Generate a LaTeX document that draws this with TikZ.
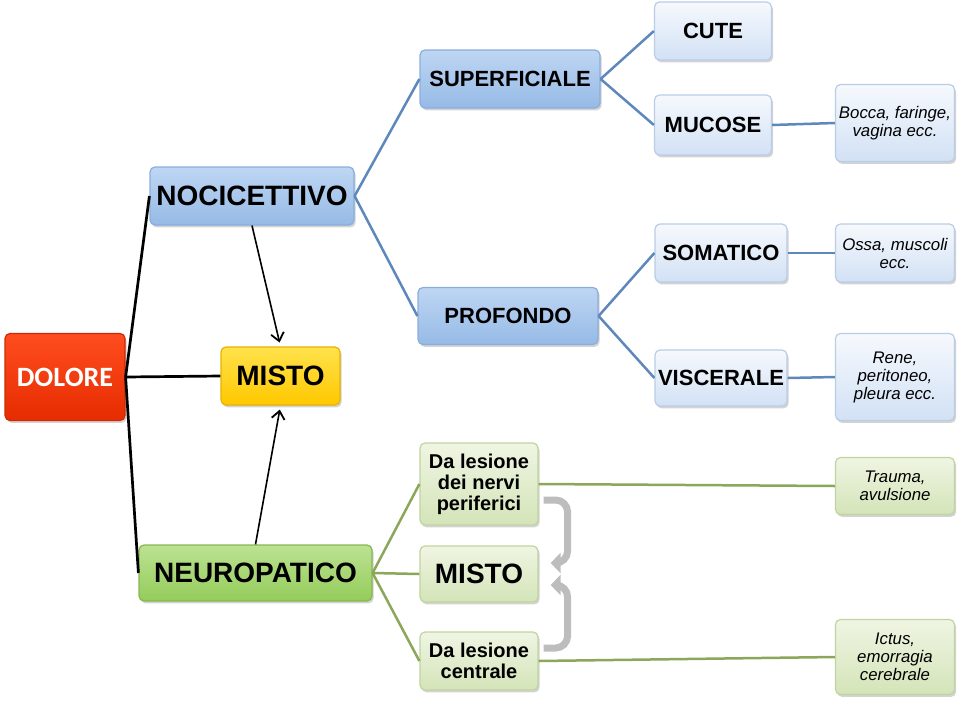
\documentclass[tikz,border=0pt]{standalone}
\usepackage{fontspec}
\setmainfont{Liberation Sans}
\newfontfamily\carlito{Carlito}
\usetikzlibrary{shadows,arrows.meta}
\definecolor{bluetop}{HTML}{BED6F3}
\definecolor{bluebot}{HTML}{96BAE6}
\definecolor{blueedge}{HTML}{8AAEDC}
\definecolor{palebluetop}{HTML}{F6F9FD}
\definecolor{palebluebot}{HTML}{D2E1F5}
\definecolor{paleblueedge}{HTML}{B9CDE6}
\definecolor{redtop}{HTML}{FF4D1F}
\definecolor{redbot}{HTML}{E62C00}
\definecolor{rededge}{HTML}{CC2A05}
\definecolor{yellowtop}{HTML}{FFE24C}
\definecolor{yellowbot}{HTML}{FFC800}
\definecolor{yellowedge}{HTML}{E5B300}
\definecolor{greentop}{HTML}{BCE292}
\definecolor{greenbot}{HTML}{94CC5A}
\definecolor{greenedge}{HTML}{86B84E}
\definecolor{palegreentop}{HTML}{EFF5E3}
\definecolor{palegreenbot}{HTML}{D4E4B8}
\definecolor{palegreenedge}{HTML}{C0D49E}
\definecolor{blueline}{HTML}{5E88BC}
\definecolor{greenline}{HTML}{8CA65A}
\definecolor{grayarrow}{HTML}{BDBDBD}
\newcommand{\fbig}{\fontsize{14}{15}\selectfont\bfseries}
\newcommand{\fmid}{\fontsize{11}{12}\selectfont\bfseries}
\newcommand{\fsub}{\fontsize{10}{10.5}\selectfont\bfseries}
\newcommand{\fnote}{\fontsize{8.4}{9}\selectfont\itshape}
\tikzstyle{box}=[rounded corners=2.5pt,line width=0.6pt,align=center,inner sep=0pt,
  drop shadow={opacity=0.35,shadow xshift=0.8pt,shadow yshift=-1.2pt}]
\tikzstyle{bluebox}=[box,draw=blueedge,top color=bluetop,bottom color=bluebot]
\tikzstyle{palebluebox}=[box,draw=paleblueedge,top color=palebluetop,bottom color=palebluebot]
\tikzstyle{redbox}=[box,draw=rededge,top color=redtop,bottom color=redbot]
\tikzstyle{yellowbox}=[box,draw=yellowedge,top color=yellowtop,bottom color=yellowbot]
\tikzstyle{greenbox}=[box,draw=greenedge,top color=greentop,bottom color=greenbot]
\tikzstyle{palegreenbox}=[box,draw=palegreenedge,top color=palegreentop,bottom color=palegreenbot]
\tikzstyle{blackline}=[line width=1.35pt,black]
\tikzstyle{bluelink}=[line width=1.25pt,blueline]
\tikzstyle{greenlink}=[line width=1.25pt,greenline]
\tikzstyle{thinarrow}=[line width=0.8pt,-{Straight Barb[length=4pt,width=6.5pt,line width=0.9pt]},shorten >=2pt]
\tikzstyle{grayarr}=[line width=3.5pt,grayarrow,rounded corners=6pt,-{Triangle[length=5pt,width=10pt]}]
\begin{document}
\begin{tikzpicture}[x=0.5pt,y=-0.5pt]
\useasboundingbox (0,0) rectangle (960,703);
\node[redbox,minimum width=60pt,minimum height=43.5pt,text=white,font=\carlito\fbig] (dolore) at (65,377) {DOLORE};
\node[yellowbox,minimum width=59.5pt,minimum height=29pt,font=\fbig] (misto) at (280.5,376) {MISTO};
\node[bluebox,minimum width=102pt,minimum height=29pt,font=\fbig] (noci) at (252,196) {NOCICETTIVO};
\node[greenbox,minimum width=116.5pt,minimum height=28pt,font=\fbig] (neuro) at (255.5,573) {NEUROPATICO};
\node[bluebox,minimum width=90pt,minimum height=29pt,font=\fmid] (superf) at (510,79) {SUPERFICIALE};
\node[bluebox,minimum width=90pt,minimum height=28.5pt,font=\fmid] (profondo) at (508,316) {PROFONDO};
\node[palebluebox,minimum width=58.5pt,minimum height=29pt,font=\fmid] (cute) at (713,31) {CUTE};
\node[palebluebox,minimum width=58.5pt,minimum height=30pt,font=\fmid] (mucose) at (713,125) {MUCOSE};
\node[palebluebox,minimum width=66pt,minimum height=29pt,font=\fmid] (somatico) at (721,253) {SOMATICO};
\node[palebluebox,minimum width=66pt,minimum height=28pt,font=\fmid] (viscerale) at (721,378) {VISCERALE};
\node[palebluebox,minimum width=59.5pt,minimum height=38.5pt,font=\fnote] (bocca) at (895,123) {Bocca, faringe,\\vagina ecc.};
\node[palebluebox,minimum width=59.5pt,minimum height=29pt,font=\fnote] (ossa) at (895,253) {Ossa, muscoli\\ecc.};
\node[palebluebox,minimum width=59.5pt,minimum height=43.5pt,font=\fnote] (rene) at (895,377) {Rene,\\peritoneo,\\pleura ecc.};
\node[palegreenbox,minimum width=59pt,minimum height=41pt,font=\fsub] (perif) at (479,484) {Da lesione\\dei nervi\\periferici};
\node[palegreenbox,minimum width=59pt,minimum height=28pt,font=\fbig] (mistoneuro) at (479,574) {MISTO};
\node[palegreenbox,minimum width=59pt,minimum height=29pt,font=\fsub] (centrale) at (479,661) {Da lesione\\centrale};
\node[palegreenbox,minimum width=59.5pt,minimum height=28.5pt,font=\fnote] (trauma) at (895,486) {Trauma,\\avulsione};
\node[palegreenbox,minimum width=59.5pt,minimum height=37.5pt,font=\fnote] (ictus) at (895,657) {Ictus,\\emorragia\\cerebrale};
\draw[blackline] (dolore.east) -- (noci.west);
\draw[blackline] (dolore.east) -- (misto.west);
\draw[blackline] (dolore.east) -- (neuro.west);
\draw[thinarrow] (noci.south) -- (misto.north);
\draw[thinarrow] (neuro.north) -- (misto.south);
\draw[bluelink] (noci.east) -- (superf.west);
\draw[bluelink] (noci.east) -- (profondo.west);
\draw[bluelink] (superf.east) -- (cute.west);
\draw[bluelink] (superf.east) -- (mucose.west);
\draw[bluelink] (mucose.east) -- (bocca.west);
\draw[bluelink] (profondo.east) -- (somatico.west);
\draw[bluelink] (profondo.east) -- (viscerale.west);
\draw[bluelink] (somatico.east) -- (ossa.west);
\draw[bluelink] (viscerale.east) -- (rene.west);
\draw[greenlink] (neuro.east) -- (perif.west);
\draw[greenlink] (neuro.east) -- (mistoneuro.west);
\draw[greenlink] (neuro.east) -- (centrale.west);
\draw[greenlink] (perif.east) -- (trauma.west);
\draw[greenlink] (centrale.east) -- (ictus.west);
\draw[grayarr] ([shift={(5,16)}]perif.east) -- ++(24,0) |- ([shift={(12,-11)}]mistoneuro.east);
\draw[grayarr] ([shift={(5,-13)}]centrale.east) -- ++(24,0) |- ([shift={(12,11)}]mistoneuro.east);
\end{tikzpicture}
\end{document}
